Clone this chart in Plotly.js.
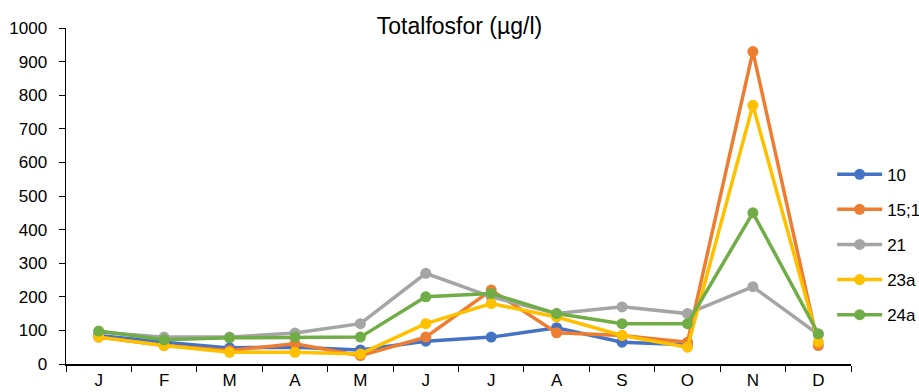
<!DOCTYPE html>
<html>
<head>
<meta charset="utf-8">
<script src="https://cdn.plot.ly/plotly-3.0.1.min.js"></script>
<style>
  html, body { margin: 0; padding: 0; background: #fff; }
  #chart { width: 919px; height: 392px; }
</style>
</head>
<body>
<div id="chart"></div>
<script>
// Months (unique keys) and their one-letter axis labels
const months = ["jan", "feb", "mar", "apr", "maj", "jun", "jul", "aug", "sep", "okt", "nov", "dec"];
const monthLabels = ["J", "F", "M", "A", "M", "J", "J", "A", "S", "O", "N", "D"];

// Total phosphorus (µg/l) per sampling station
const station10  = [85, 65, 48, 50, 42, 68, 80, 108, 65, 57, null, null];
const station15  = [80, 55, 40, 60, 25, 80, 220, 93, 85, 65, 930, 55];
const station21  = [95, 80, 80, 92, 120, 270, 200, 150, 170, 150, 230, 88];
const station23a = [80, 55, 35, 35, 30, 120, 180, 140, 85, 50, 770, 65];
const station24a = [98, 72, 78, 80, 80, 200, 210, 150, 120, 120, 450, 90];

const seriesNames  = ["10", "15;1", "21", "23a", "24a"];
const seriesValues = [station10, station15, station21, station23a, station24a];
const seriesColors = ["#4472C4", "#ED7D31", "#A5A5A5", "#FFC000", "#70AD47"];

const traces = seriesValues.map((vals, i) => ({
  type: "scatter",
  mode: "lines+markers",
  name: seriesNames[i],
  legendgroup: "g" + i,
  x: months,
  y: vals,
  line: { color: seriesColors[i], width: 3.5 },
  marker: { color: seriesColors[i], size: 11 },
  connectgaps: false
}));

const axisFont = { family: "Liberation Sans, Arial, sans-serif", size: 17, color: "#000" };

const layout = {
  width: 919,
  height: 392,
  margin: { l: 66, r: 68, t: 28, b: 28, autoexpand: false },
  paper_bgcolor: "#fff",
  plot_bgcolor: "#fff",
  title: {
    text: "Totalfosfor (µg/l)",
    font: { family: "Liberation Sans, Arial, sans-serif", size: 23, color: "#000" },
    x: 0.5, xanchor: "center",
    y: 0.935, yanchor: "middle", yref: "container"
  },
  xaxis: {
    type: "category",
    categoryorder: "array",
    categoryarray: months,
    tickvals: months,
    ticktext: monthLabels,
    tickson: "boundaries",
    ticks: "outside",
    ticklen: 6,
    tickcolor: "#000",
    showline: true,
    linecolor: "#000",
    linewidth: 1.5,
    showgrid: false,
    zeroline: false,
    tickfont: axisFont,
    range: [-0.5, 11.5],
    fixedrange: true
  },
  yaxis: {
    range: [0, 1000],
    tickmode: "linear",
    tick0: 0,
    dtick: 100,
    ticks: "outside",
    ticklen: 6,
    tickcolor: "#000",
    ticklabelstandoff: 8,
    showline: true,
    linecolor: "#000",
    linewidth: 1.5,
    showgrid: false,
    zeroline: false,
    tickfont: axisFont,
    fixedrange: true
  },
  showlegend: true,
  legend: {
    x: 0.976, xanchor: "left",
    y: 0.355, yanchor: "middle",
    traceorder: "grouped",
    tracegroupgap: 10,
    itemwidth: 45,
    font: axisFont,
    bgcolor: "rgba(0,0,0,0)"
  }
};

Plotly.newPlot("chart", traces, layout, { displayModeBar: false, staticPlot: true });
</script>
</body>
</html>
